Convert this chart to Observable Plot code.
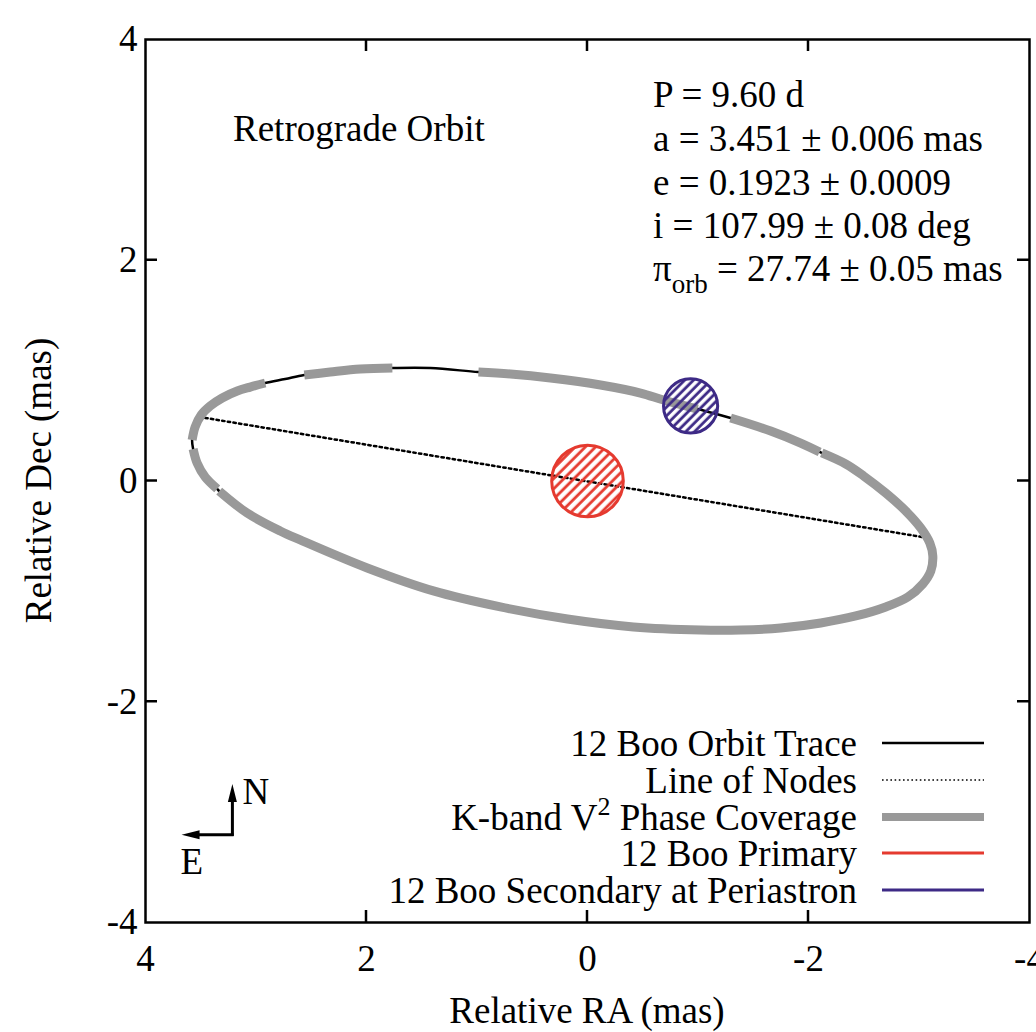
<!DOCTYPE html>
<html><head><meta charset="utf-8">
<script src="https://cdn.jsdelivr.net/npm/d3@7"></script>
<script src="https://cdn.jsdelivr.net/npm/@observablehq/plot@0.6"></script>
<style>
html,body{margin:0;padding:0;background:#fff;}
#chart svg{display:block;}
#chart svg text{font-family:"Liberation Serif";}
</style></head><body><div id="chart"></div>
<script>
// ---- data (mas) ----
const orbitRA = [3.569, 3.578, 3.551, 3.496, 3.415, 3.306, 3.170, 3.053, 2.917, 2.736,
  2.563, 2.328, 2.056, 1.766, 1.422, 0.987, 0.697, 0.335, -0.118, -0.480,
  -0.688, -0.996, -1.295, -1.658, -1.929, -2.101, -2.120, -2.337, -2.500, -2.699,
  -2.880, -3.016, -3.098, -3.125, -3.107, -3.034, -2.899, -2.699, -2.428, -2.111,
  -1.748, -1.386, -1.024, -0.417, 0.181, 0.788, 1.395, 1.993, 2.600, 2.781,
  3.080, 3.333, 3.351, 3.460, 3.533];
const orbitDec = [0.290, 0.371, 0.489, 0.598, 0.679, 0.752, 0.815, 0.851, 0.888, 0.924,
  0.960, 0.987, 1.014, 1.024, 1.024, 0.987, 0.969, 0.933, 0.870, 0.797,
  0.734, 0.652, 0.571, 0.453, 0.344, 0.263, 0.254, 0.154, 0.045, -0.109,
  -0.272, -0.426, -0.562, -0.679, -0.815, -0.933, -1.051, -1.141, -1.223, -1.286,
  -1.332, -1.350, -1.350, -1.322, -1.250, -1.141, -0.996, -0.788, -0.534, -0.453,
  -0.290, -0.091, -0.072, 0.036, 0.163];
// 1 = K-band V^2 phase coverage on the orbit segment from point k to point k+1
const coverage = [0, 1, 1, 1, 1, 1, 1, 1, 0, 0,
  1, 1, 1, 0, 0, 1, 1, 1, 1, 1,
  1, 0, 1, 1, 1, 0, 1, 1, 1, 1,
  1, 1, 1, 1, 1, 1, 1, 1, 1, 1,
  1, 1, 1, 1, 1, 1, 1, 1, 1, 1,
  1, 0, 1, 1, 1];
const nodesRA = [3.51, -3.08];
const nodesDec = [0.58, -0.516];
const starNames = ["12 Boo Primary", "12 Boo Secondary at Periastron"];
const starRA = [0, -0.933];
const starDec = [0, 0.68];
const starRadius = [0.324, 0.245];
const starColors = ["#e53a2f", "#3d2a86"];
const xTicks = [4, 2, 0, -2, -4];
const yTicks = [-4, -2, 0, 2, 4];
const xLabel = "Relative RA (mas)";
const yLabel = "Relative Dec (mas)";
const orbitNote = "Retrograde Orbit";
const paramLines = ["P = 9.60 d", "a = 3.451 \u00b1 0.006 mas", "e = 0.1923 \u00b1 0.0009", "i = 107.99 \u00b1 0.08 deg"];
const parallaxLine = ["\u03c0", "orb", " = 27.74 \u00b1 0.05 mas"];
const legendLabels = ["12 Boo Orbit Trace", "Line of Nodes", "K-band V|2| Phase Coverage", "12 Boo Primary", "12 Boo Secondary at Periastron"];
const compassRA = [3.209];
const compassDec = [-3.209];
const compassLen = [0.46];

// ---- build ----
const W = 1036, H = 1032, mL = 145, mR = 7, mT = 39, mB = 110;
const kx = (W - mL - mR) / 8;
const FONT = "Liberation Serif";
const orbit = orbitRA.map((x, i) => ({x, y: orbitDec[i]}));
const n = orbit.length;
const runs = [];
let run = -1, prev = false;
for (let k = 0; k < n; k++) {
  if (coverage[k]) {
    if (!prev) { run++; runs.push({...orbit[k], run}); }
    runs.push({...orbit[(k + 1) % n], run});
  }
  prev = !!coverage[k];
}
const nodes = nodesRA.map((x, i) => ({x, y: nodesDec[i]}));
const stars = starNames.map((name, i) => ({name, x: starRA[i], y: starDec[i], r: starRadius[i], c: starColors[i]}));

const plot = Plot.plot({
  width: W, height: H,
  marginLeft: mL, marginRight: mR, marginTop: mT, marginBottom: mB,
  x: {domain: [4, -4]},
  y: {domain: [-4, 4]},
  style: {fontFamily: FONT, fontSize: "37px", color: "#000", background: "#fff", overflow: "visible"},
  marks: [
    Plot.line(orbit, {x: "x", y: "y", curve: "catmull-rom-closed", stroke: "#000", strokeWidth: 2.5}),
    Plot.line(nodes, {x: "x", y: "y", stroke: "#000", strokeWidth: 2.5, strokeDasharray: "2.4,3.3"}),
    Plot.line(runs, {x: "x", y: "y", z: "run", curve: "catmull-rom", stroke: "#999999", strokeWidth: 9, strokeLinecap: "butt"}),
    ...stars.map((s, i) => Plot.dot([s], {x: "x", y: "y", r: s.r * kx, stroke: s.c, strokeWidth: 3, fill: `url(#hatch${i})`})),
    Plot.frame({stroke: "#000", strokeWidth: 2.5}),
    Plot.axisX({ticks: xTicks, tickSize: 0, tickPadding: 22, tickFormat: d => String(d), label: null, fontFamily: FONT}),
    Plot.axisY({ticks: yTicks, tickSize: 0, tickPadding: 8, tickFormat: d => String(d), label: null, fontFamily: FONT})
  ]
});
document.getElementById("chart").appendChild(plot);

const svg = d3.select(plot);
svg.selectAll("text").attr("font-family", FONT);
const sx = plot.scale("x").apply, sy = plot.scale("y").apply;
const defs = svg.insert("defs", ":first-child");
stars.forEach((s, i) => {
  const p = defs.append("pattern").attr("id", `hatch${i}`).attr("patternUnits", "userSpaceOnUse")
    .attr("width", i === 0 ? 7.2 : 6.2).attr("height", 10).attr("patternTransform", "rotate(45)");
  p.append("line").attr("x1", 2).attr("x2", 2).attr("y1", -1).attr("y2", 11)
    .attr("stroke", s.c).attr("stroke-width", 2.8);
});

// inward mirror ticks
const g = svg.append("g").attr("stroke", "#000").attr("stroke-width", 2.5);
const x0 = sx(4), x1 = sx(-4), y0 = sy(-4), y1 = sy(4), TL = 12;
xTicks.filter(t => Math.abs(t) < 4).forEach(t => {
  g.append("line").attr("x1", sx(t)).attr("x2", sx(t)).attr("y1", y0).attr("y2", y0 - TL);
  g.append("line").attr("x1", sx(t)).attr("x2", sx(t)).attr("y1", y1).attr("y2", y1 + TL);
});
yTicks.filter(t => Math.abs(t) < 4).forEach(t => {
  g.append("line").attr("y1", sy(t)).attr("y2", sy(t)).attr("x1", x0).attr("x2", x0 + TL);
  g.append("line").attr("y1", sy(t)).attr("y2", sy(t)).attr("x1", x1).attr("x2", x1 - TL);
});

const T = svg.append("g").attr("font-size", 37).attr("fill", "#000").attr("text-anchor", "start");
const addText = (parent) => parent.append("text").attr("font-family", FONT);
// axis labels
addText(T).attr("x", (x0 + x1) / 2).attr("y", 1023).attr("text-anchor", "middle").text(xLabel);
addText(T).attr("transform", `translate(51,${(y0 + y1) / 2}) rotate(-90)`).attr("text-anchor", "middle").text(yLabel);
// annotations
addText(T).attr("x", 233).attr("y", 141).text(orbitNote);
paramLines.forEach((t, i) => addText(T).attr("x", 653).attr("y", 107 + i * 43.8).text(t));
const pl = addText(T).attr("x", 653).attr("y", 281);
pl.append("tspan").text(parallaxLine[0]);
pl.append("tspan").attr("font-size", 27).attr("dy", 12).text(parallaxLine[1]);
pl.append("tspan").attr("dy", -12).text(parallaxLine[2]);

// legend
const LG = svg.append("g");
const legendY = [743, 780, 817, 853, 890];
const lx1 = 882, lx2 = 984, tx = 857;
legendLabels.forEach((lab, i) => {
  const t = addText(T).attr("x", tx).attr("y", legendY[i] + 12.5).attr("text-anchor", "end");
  if (lab.includes("|")) {
    const [a, b, c] = lab.split("|");
    t.append("tspan").text(a);
    t.append("tspan").attr("font-size", 26).attr("dy", -15).text(b);
    t.append("tspan").attr("dy", 15).text(c);
  } else t.text(lab);
});
const styles = [
  {stroke: "#000", w: 2.5},
  {stroke: "#000", w: 1.6, dash: "1.6,2.6"},
  {stroke: "#999999", w: 8},
  {stroke: starColors[0], w: 3},
  {stroke: starColors[1], w: 3}
];
styles.forEach((s, i) => {
  const l = LG.append("line").attr("x1", lx1).attr("x2", lx2).attr("y1", legendY[i]).attr("y2", legendY[i])
    .attr("stroke", s.stroke).attr("stroke-width", s.w);
  if (s.dash) l.attr("stroke-dasharray", s.dash);
});

// compass
const cx = sx(compassRA[0]), cy = sy(compassDec[0]);
const ny = sy(compassDec[0] + compassLen[0]), ex = sx(compassRA[0] + compassLen[0]);
const C = svg.append("g");
C.append("line").attr("x1", cx).attr("y1", cy + 1.2).attr("x2", cx).attr("y2", ny + 14).attr("stroke", "#000").attr("stroke-width", 3);
C.append("line").attr("x1", cx + 1.2).attr("y1", cy).attr("x2", ex + 14).attr("y2", cy).attr("stroke", "#000").attr("stroke-width", 3);
C.append("path").attr("d", `M${cx},${ny} L${cx - 4.5},${ny + 18} L${cx + 4.5},${ny + 18} Z`).attr("fill", "#000");
C.append("path").attr("d", `M${ex},${cy} L${ex + 18},${cy - 4.5} L${ex + 18},${cy + 4.5} Z`).attr("fill", "#000");
addText(T).attr("x", cx + 10).attr("y", ny + 20).text("N");
addText(T).attr("x", ex - 1).attr("y", cy + 39).text("E");
</script></body></html>
